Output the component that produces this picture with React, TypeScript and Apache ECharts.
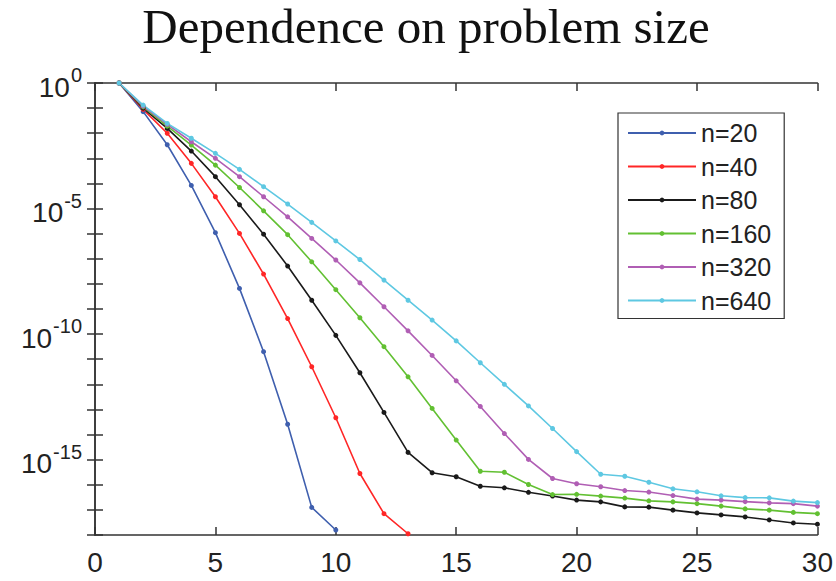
import React, { useEffect, useRef } from "react";
import * as echarts from "echarts";

// log10 of the error, iteration k = 1..N
const iterations = Array.from({ length: 30 }, (_, i) => i + 1);
const seriesNames = ["n=20", "n=40", "n=80", "n=160", "n=320", "n=640"];
const seriesColors = ["#3f5fae", "#ff2626", "#1a1a1a", "#62c032", "#b05eb4", "#5ec8e2"];

const log10Err_n20 = [0, -1.14, -2.46, -4.08, -5.96, -8.18, -10.7, -13.59, -16.9, -17.8];
const log10Err_n40 = [0, -1.05, -2.0, -3.2, -4.53, -5.99, -7.61, -9.38, -11.3, -13.33, -15.55, -17.15, -17.95];
const log10Err_n80 = [0, -1.0, -1.81, -2.71, -3.73, -4.85, -6.02, -7.29, -8.65, -10.05, -11.54, -13.12, -14.71, -15.52, -15.68, -16.06, -16.12, -16.3, -16.45, -16.61, -16.68, -16.88, -16.89, -17.01, -17.12, -17.2, -17.28, -17.4, -17.52, -17.57];
const log10Err_n160 = [0, -0.95, -1.72, -2.47, -3.27, -4.16, -5.09, -6.04, -7.12, -8.23, -9.35, -10.5, -11.7, -12.96, -14.22, -15.46, -15.5, -15.99, -16.39, -16.38, -16.45, -16.53, -16.64, -16.68, -16.75, -16.85, -16.96, -17.01, -17.1, -17.15];
const log10Err_n320 = [0, -0.92, -1.65, -2.34, -3.0, -3.73, -4.53, -5.33, -6.19, -7.05, -7.96, -8.91, -9.87, -10.85, -11.86, -12.88, -13.96, -14.99, -15.75, -15.96, -16.08, -16.23, -16.29, -16.43, -16.57, -16.61, -16.67, -16.72, -16.75, -16.85];
const log10Err_n640 = [0, -0.88, -1.61, -2.2, -2.8, -3.44, -4.13, -4.82, -5.55, -6.29, -7.03, -7.85, -8.65, -9.44, -10.27, -11.14, -12.0, -12.86, -13.76, -14.68, -15.58, -15.66, -15.9, -16.16, -16.28, -16.44, -16.51, -16.52, -16.65, -16.71];

const allLogErr = [log10Err_n20, log10Err_n40, log10Err_n80, log10Err_n160, log10Err_n320, log10Err_n640];

const xTicks = [0, 5, 10, 15, 20, 25, 30];
const yLabelExponents = [0, -5, -10, -15];

export default function App() {
  const ref = useRef<HTMLDivElement>(null);
  useEffect(() => {
    if (!ref.current) return;
    const chart = echarts.init(ref.current, null, { renderer: "svg" });
    const axisColor = "#333";
    const font = "Liberation Sans";
    const yFormatter = (v: number) => {
      const e = Math.round(Math.log10(v));
      if (!yLabelExponents.includes(e)) return "";
      return `{b|10}{s|${e}}`;
    };
    const option: any = {
      animation: false,
      backgroundColor: "#fff",
      title: {
        text: "Dependence on problem size",
        left: 426,
        textAlign: "center",
        top: 2,
        padding: 0,
        textStyle: { fontFamily: "Liberation Serif", fontSize: 49, fontWeight: "normal", color: "#111" },
      },
      grid: { left: 95, right: 18, top: 83, bottom: 46, containLabel: false },
      legend: {
        orient: "vertical",
        left: 618,
        top: 113,
        itemWidth: 68,
        itemHeight: 6,
        itemGap: 7.5,
        padding: [7, 13, 5, 9],
        borderColor: "#333",
        borderWidth: 1.2,
        backgroundColor: "#fff",
        textStyle: { fontFamily: font, fontSize: 25, color: "#222", lineHeight: 26 },
        data: seriesNames,
      },
      xAxis: [
        {
          type: "value",
          min: xTicks[0],
          max: xTicks[xTicks.length - 1],
          interval: 5,
          axisLine: { show: true, lineStyle: { color: axisColor, width: 1.5 } },
          axisTick: { show: true, inside: true, length: 8, lineStyle: { color: axisColor, width: 1.5 } },
          axisLabel: { fontFamily: font, fontSize: 28, color: "#222", margin: 13 },
          splitLine: { show: false },
        },
        {
          type: "value",
          position: "top",
          min: xTicks[0],
          max: xTicks[xTicks.length - 1],
          interval: 5,
          axisLine: { show: true, lineStyle: { color: axisColor, width: 1.5 } },
          axisTick: { show: true, inside: true, length: 8, lineStyle: { color: axisColor, width: 1.5 } },
          axisLabel: { show: false },
          splitLine: { show: false },
        },
      ],
      yAxis: [
        {
          type: "log",
          logBase: 10,
          min: 1e-18,
          max: 1,
          interval: 1,
          splitNumber: 18,
          axisLine: { show: true, lineStyle: { color: axisColor, width: 1.5 } },
          axisTick: { show: true, inside: true, length: 8, lineStyle: { color: axisColor, width: 1.5 } },
          axisLabel: {
            formatter: yFormatter,
            margin: 13,
            rich: {
              b: { fontFamily: font, fontSize: 28, color: "#222", padding: [8, 0, 0, 0] },
              s: { fontFamily: font, fontSize: 20, color: "#222", verticalAlign: "top", padding: [0, 0, 10, 1] },
            },
          },
          splitLine: { show: false },
        },
        {
          type: "log",
          logBase: 10,
          position: "right",
          min: 1e-18,
          max: 1,
          interval: 1,
          splitNumber: 18,
          axisLine: { show: true, lineStyle: { color: axisColor, width: 1.5 } },
          axisTick: { show: true, inside: true, length: 8, lineStyle: { color: axisColor, width: 1.5 } },
          axisLabel: { show: false },
          splitLine: { show: false },
        },
      ],
      series: seriesNames.map((name, i) => ({
        name,
        type: "line",
        xAxisIndex: 0,
        yAxisIndex: 0,
        symbol: "circle",
        symbolSize: 5,
        showSymbol: true,
        color: seriesColors[i],
        lineStyle: { width: 1.6, color: seriesColors[i] },
        itemStyle: { color: seriesColors[i] },
        data: allLogErr[i].map((e, k) => [iterations[k], Math.pow(10, e)]),
      })),
    };
    chart.setOption(option);
    return () => chart.dispose();
  }, []);
  return <div ref={ref} style={{ position: "fixed", left: 0, top: 0, width: 836, height: 581 }} />;
}
